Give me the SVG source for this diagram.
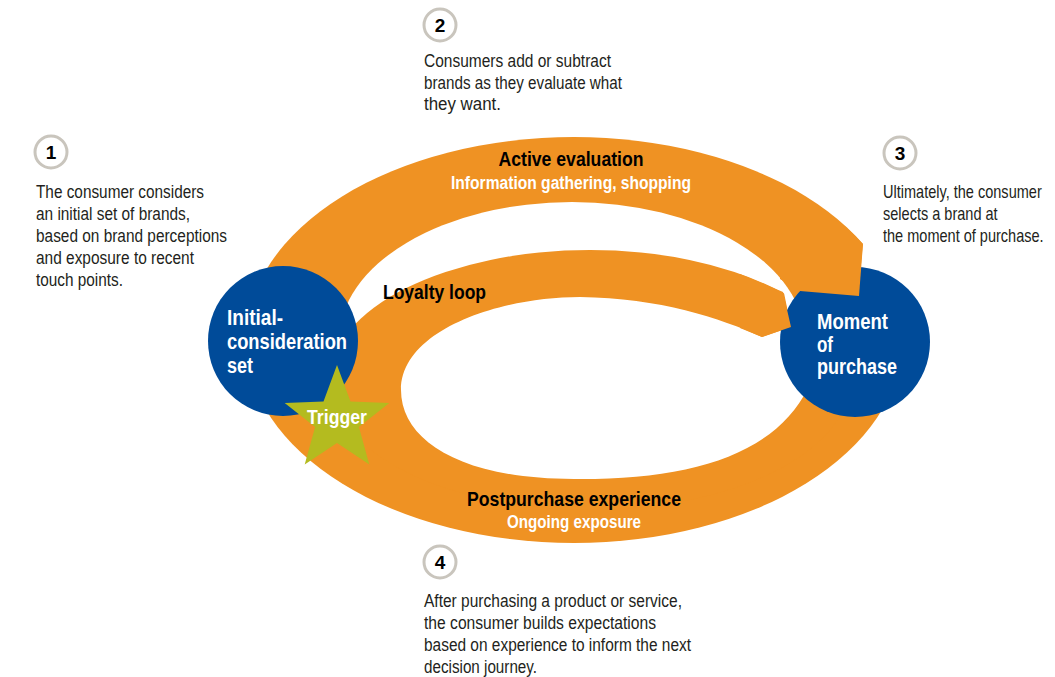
<svg xmlns="http://www.w3.org/2000/svg" width="1055" height="677" viewBox="0 0 1055 677">
<style>
.body{font-family:"Liberation Sans",Arial,sans-serif;font-size:17.5px;fill:#231f20}
.lbl{font-family:"Liberation Sans",Arial,sans-serif;font-weight:bold;font-size:20.5px;fill:#000}
.sub{font-family:"Liberation Sans",Arial,sans-serif;font-weight:bold;font-size:17.5px;fill:#fff}
.node{font-family:"Liberation Sans",Arial,sans-serif;font-weight:bold;font-size:21.5px;fill:#fff}
.num{font-family:"Liberation Sans",Arial,sans-serif;font-weight:bold;font-size:19px;fill:#000;text-anchor:middle}
.badge{fill:#fff;stroke:#c9c5bd;stroke-width:3}
.or{fill:#ef9223}
.wh{fill:#fff}
.blue{fill:#004b99}
</style>
<defs>
<clipPath id="loopClip"><polygon points="0,0 783,0 783,288 791,327 1055,327 1055,677 0,677"/></clipPath>
</defs>
<rect width="1055" height="677" fill="#fff"/>
<g id="connectors">
<ellipse class="or" cx="574" cy="340" rx="328" ry="203"/>
<ellipse class="wh" cx="572" cy="340" rx="233" ry="138"/>
<ellipse class="or" cx="590" cy="380" rx="260" ry="130" clip-path="url(#loopClip)"/>
<path class="wh" d="M791,327 L762,337 C720,318 660,298 580,297 C500,297 401,330 401,390 C401,440 460,479 574,479 C690,480 775,455 808,388 L830,340 Z"/>
<polygon class="wh" points="867,200 960,200 960,300 857.6,300"/>
</g>
<g id="node-purchase">
<circle class="blue" cx="855" cy="342" r="75"/>
<text class="node" x="817" y="329" textLength="71" lengthAdjust="spacingAndGlyphs">Moment</text>
<text class="node" x="817" y="352" textLength="16" lengthAdjust="spacingAndGlyphs">of</text>
<text class="node" x="817" y="374" textLength="80" lengthAdjust="spacingAndGlyphs">purchase</text>
</g>
<g id="arrowheads">
<path class="or" d="M780,184 A328 203 0 0 1 863,244 L859,296 L800,291 L780,279 Z"/>
<path class="or" d="M740,274 L783,292 L791,327 L762,337 L740,328 Z"/>
</g>
<g id="node-initial">
<circle class="blue" cx="283" cy="341" r="75"/>
<text class="node" x="227" y="325" textLength="56" lengthAdjust="spacingAndGlyphs">Initial-</text>
<text class="node" x="227" y="349" textLength="120" lengthAdjust="spacingAndGlyphs">consideration</text>
<text class="node" x="227" y="373" textLength="26" lengthAdjust="spacingAndGlyphs">set</text>
</g>
<g id="node-trigger">
<polygon fill="#b4bb1f" points="337,365 350.5,401.4 389.3,403 358.9,427.1 369.3,464.5 337,443 304.7,464.5 315.1,427.1 284.7,403 323.5,401.4"/>
<text class="node" x="337" y="424" text-anchor="middle" textLength="60" lengthAdjust="spacingAndGlyphs" style="font-size:20.5px">Trigger</text>
</g>
<g id="labels">
<text class="lbl" x="571" y="166" text-anchor="middle" textLength="145" lengthAdjust="spacingAndGlyphs">Active evaluation</text>
<text class="sub" x="571" y="189" text-anchor="middle" textLength="240" lengthAdjust="spacingAndGlyphs">Information gathering, shopping</text>
<text class="lbl" x="383" y="299" textLength="103" lengthAdjust="spacingAndGlyphs">Loyalty loop</text>
<text class="lbl" x="574" y="506" text-anchor="middle" textLength="214" lengthAdjust="spacingAndGlyphs">Postpurchase experience</text>
<text class="sub" x="574" y="528" text-anchor="middle" textLength="134" lengthAdjust="spacingAndGlyphs">Ongoing exposure</text>
</g>
<g id="step-1">
<circle class="badge" cx="51" cy="152" r="16"/>
<text class="num" x="51" y="159">1</text>
<text class="body" x="36" y="198" textLength="168" lengthAdjust="spacingAndGlyphs">The consumer considers</text>
<text class="body" x="36" y="220" textLength="154" lengthAdjust="spacingAndGlyphs">an initial set of brands,</text>
<text class="body" x="36" y="242" textLength="191" lengthAdjust="spacingAndGlyphs">based on brand perceptions</text>
<text class="body" x="36" y="264" textLength="158" lengthAdjust="spacingAndGlyphs">and exposure to recent</text>
<text class="body" x="36" y="286" textLength="87" lengthAdjust="spacingAndGlyphs">touch points.</text>
</g>
<g id="step-2">
<circle class="badge" cx="440" cy="25" r="16"/>
<text class="num" x="440" y="32">2</text>
<text class="body" x="424" y="67" textLength="187" lengthAdjust="spacingAndGlyphs">Consumers add or subtract</text>
<text class="body" x="424" y="89" textLength="198" lengthAdjust="spacingAndGlyphs">brands as they evaluate what</text>
<text class="body" x="424" y="110" textLength="77" lengthAdjust="spacingAndGlyphs">they want.</text>
</g>
<g id="step-3">
<circle class="badge" cx="900" cy="153" r="16"/>
<text class="num" x="900" y="160">3</text>
<g transform="translate(883,0) scale(0.83,1)">
<text class="body" x="0" y="198">Ultimately, the consumer</text>
<text class="body" x="0" y="220">selects a brand at</text>
<text class="body" x="0" y="242">the moment of purchase.</text>
</g>
</g>
<g id="step-4">
<circle class="badge" cx="440" cy="562" r="16"/>
<text class="num" x="440" y="569">4</text>
<text class="body" x="424" y="607" textLength="258" lengthAdjust="spacingAndGlyphs">After purchasing a product or service,</text>
<text class="body" x="424" y="629" textLength="232" lengthAdjust="spacingAndGlyphs">the consumer builds expectations</text>
<text class="body" x="424" y="651" textLength="267" lengthAdjust="spacingAndGlyphs">based on experience to inform the next</text>
<text class="body" x="424" y="673" textLength="113" lengthAdjust="spacingAndGlyphs">decision journey.</text>
</g>
</svg>
